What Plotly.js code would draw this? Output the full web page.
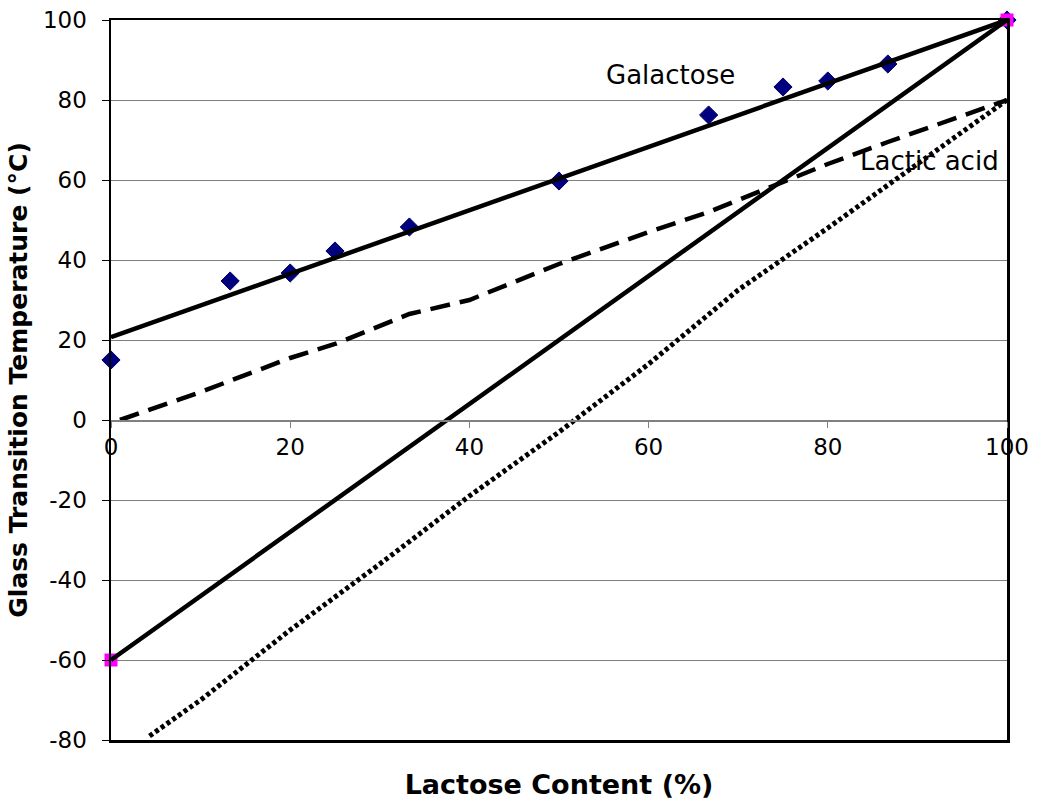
<!DOCTYPE html>
<html>
<head>
<meta charset="utf-8">
<script src="https://cdn.plot.ly/plotly-3.0.1.min.js"></script>
<style>html,body{margin:0;padding:0;background:#fff;}#chart{width:1038px;height:800px;}</style>
</head>
<body>
<div id="chart"></div>
<script>
// Galactose measured points (diamonds)
const galX = [0, 13.3, 20, 25, 33.3, 50, 66.7, 75, 80, 86.7, 100];
const galY = [15, 34.75, 36.75, 42.25, 48.25, 59.75, 76.25, 83.25, 84.75, 89, 100];
// Galactose fitted line
const galFitX = [0, 100];
const galFitY = [20.7, 100];
// Lactic acid end points (magenta squares) and straight line
const lacX = [0, 100];
const lacY = [-60, 100];
// Dashed curve
const dashX = [1, 10, 20, 25, 33.3, 40, 50, 60, 66.7, 75, 80, 86.7, 100];
const dashY = [0, 7, 15.5, 19, 26.5, 30, 39, 47, 52, 59.5, 64, 69.5, 80];
// Dotted curve
const dotX = [4.3, 10, 20, 30, 40, 50, 60, 70, 80, 90, 100];
const dotY = [-79, -70, -52.5, -36, -19, -3, 14, 32.5, 48, 64, 80];
// Tick values
const xTicks = [0, 20, 40, 60, 80, 100];
const yTicks = [-80, -60, -40, -20, 0, 20, 40, 60, 80, 100];

const FONT = 'DejaVu Sans, Verdana, sans-serif';

const traces = [
  {x: galX, y: galY, mode: 'markers', type: 'scatter', cliponaxis: false,
   marker: {symbol: 'diamond', size: 14, color: '#000080', line: {color: '#000060', width: 1}}},
  {x: lacX, y: lacY, mode: 'markers', type: 'scatter', cliponaxis: false,
   marker: {symbol: 'square', size: 13, color: '#ff00ff', line: {width: 0}}},
  {x: galFitX, y: galFitY, mode: 'lines', type: 'scatter', line: {color: '#000', width: 4.5}},
  {x: lacX, y: lacY, mode: 'lines', type: 'scatter', line: {color: '#000', width: 4.5}},
  {x: dashX, y: dashY, mode: 'lines', type: 'scatter', line: {color: '#000', width: 4.5, dash: '20px,10px'}},
  {x: dotX, y: dotY, mode: 'lines', type: 'scatter', xaxis: 'x2', line: {color: '#000', width: 5, dash: '4px,3px'}}
];

const layout = {
  width: 1038, height: 800,
  margin: {l: 111, r: 31, t: 20, b: 60},
  paper_bgcolor: '#fff', plot_bgcolor: '#fff',
  showlegend: false, hovermode: false,
  font: {family: FONT, size: 23, color: '#000'},
  xaxis: {
    range: [0, 100], showgrid: false, zeroline: false,
    showline: true, mirror: true, linecolor: '#000', linewidth: 2.5,
    showticklabels: false, ticks: '',
    title: {text: '<b>Lactose Content (%)</b>', font: {family: FONT, size: 27, color: '#000'}, standoff: 36}
  },
  xaxis2: {
    overlaying: 'x', anchor: 'free', position: 80 / 180,
    range: [0, 100], tickvals: xTicks, ticktext: xTicks.map(String),
    showgrid: false, zeroline: false,
    showline: true, linecolor: '#808080', linewidth: 1.5,
    ticks: 'outside', ticklen: 6, tickcolor: '#808080', tickwidth: 1,
    tickfont: {family: FONT, size: 23, color: '#000'}
  },
  yaxis: {
    range: [-80, 100], tickvals: yTicks, ticktext: yTicks.map(String),
    showgrid: true, gridcolor: '#808080', gridwidth: 1, zeroline: false,
    showline: true, mirror: true, linecolor: '#000', linewidth: 2.5,
    ticks: 'outside', ticklen: 7, tickcolor: '#000', tickwidth: 1,
    ticklabelstandoff: 10,
    tickfont: {family: FONT, size: 23, color: '#000'},
    title: {text: '<b>Glass Transition Temperature (°C)</b>', font: {family: FONT, size: 25, color: '#000'}, standoff: 8}
  },
  annotations: [
    {x: 62.4, y: 86.25, xref: 'x', yref: 'y', text: 'Galactose', showarrow: false,
     font: {family: FONT, size: 26, color: '#000'}},
    {x: 91.4, y: 64.75, xref: 'x', yref: 'y', text: 'Lactic acid', showarrow: false,
     font: {family: FONT, size: 26, color: '#000'}}
  ]
};

Plotly.newPlot('chart', traces, layout, {staticPlot: true, displayModeBar: false});
</script>
</body>
</html>
